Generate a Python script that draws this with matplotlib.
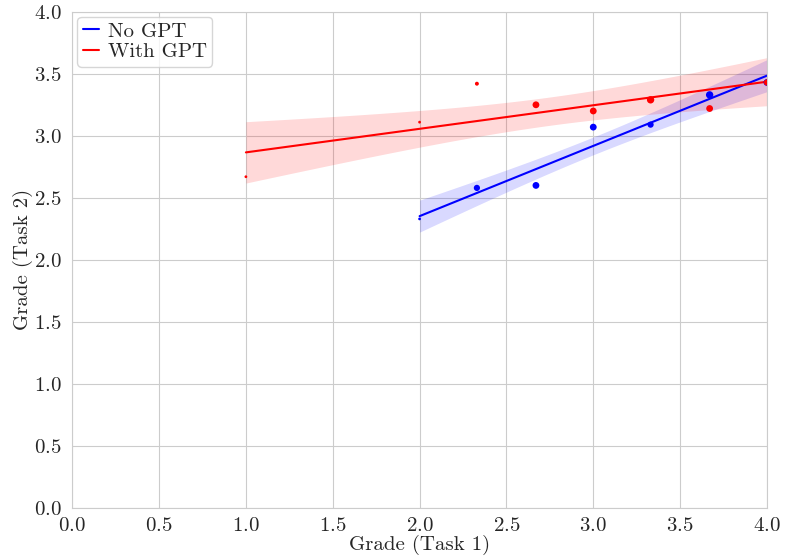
import matplotlib
matplotlib.use("Agg")
import matplotlib.pyplot as plt
import numpy as np
import seaborn as sns

# Mean grades per Task-1 grade bucket, and how many students fall in each bucket
NO_GPT_X = [2.0, 2.33, 2.67, 3.0, 3.33, 3.67, 4.0]
NO_GPT_Y = [2.33, 2.58, 2.60, 3.07, 3.09, 3.33, 3.43]
NO_GPT_N = [1, 5, 6, 6, 5, 7, 6]

GPT_X = [1.0, 2.0, 2.33, 2.67, 3.0, 3.33, 3.67, 4.0]
GPT_Y = [2.67, 3.11, 3.42, 3.25, 3.20, 3.29, 3.22, 3.43]
GPT_N = [1, 1, 2, 6, 6, 7, 6, 5]

GROUPS = [
    ("No GPT", NO_GPT_X, NO_GPT_Y, NO_GPT_N, "blue"),
    ("With GPT", GPT_X, GPT_Y, GPT_N, "red"),
]


def fit_band(x, y, grid, z=1.96):
    x = np.asarray(x)
    y = np.asarray(y)
    slope, icpt = np.polyfit(x, y, 1)
    resid = y - (icpt + slope * x)
    s = np.sqrt(np.sum(resid ** 2) / (len(x) - 2))
    sxx = np.sum((x - x.mean()) ** 2)
    se = s * np.sqrt(1 / len(x) + (grid - x.mean()) ** 2 / sxx)
    fit = icpt + slope * grid
    return fit, fit - z * se, fit + z * se


sns.set_style("whitegrid")
plt.rcParams["font.family"] = "serif"
plt.rcParams["font.serif"] = ["cmr10"]
plt.rcParams["axes.formatter.use_mathtext"] = True
plt.rcParams["mathtext.fontset"] = "cm"

fig = plt.figure(figsize=(7.85, 5.6), dpi=100)
ax = fig.add_axes([0.092, 0.093, 0.885, 0.886])

for label, xs, ys, ns, color in GROUPS:
    grid = np.linspace(min(xs), max(xs), 100)
    fit, lo, hi = fit_band(xs, ys, grid)
    ax.fill_between(grid, lo, hi, color=color, alpha=0.15, linewidth=0)
    ax.plot(grid, fit, color=color, linewidth=1.5, label=label)
    ax.scatter(xs, ys, s=np.asarray(ns) * 4.0, color=color, linewidths=0, zorder=3)

ax.set_xlim(0, 4)
ax.set_ylim(0, 4)
ax.set_xticks(np.arange(0, 4.01, 0.5))
ax.set_yticks(np.arange(0, 4.01, 0.5))
ax.tick_params(labelsize=15, pad=3)
ax.tick_params(axis="y", pad=4)
ax.set_xlabel("Grade (Task 1)", fontsize=15, labelpad=0)
ax.set_ylabel("Grade (Task 2)", fontsize=15, labelpad=1)
ax.legend(loc="upper left", fontsize=15, handlelength=0.8, handletextpad=0.4,
          borderaxespad=0.25, borderpad=0.25, labelspacing=0.1)

fig.savefig("out.png", dpi=100)
